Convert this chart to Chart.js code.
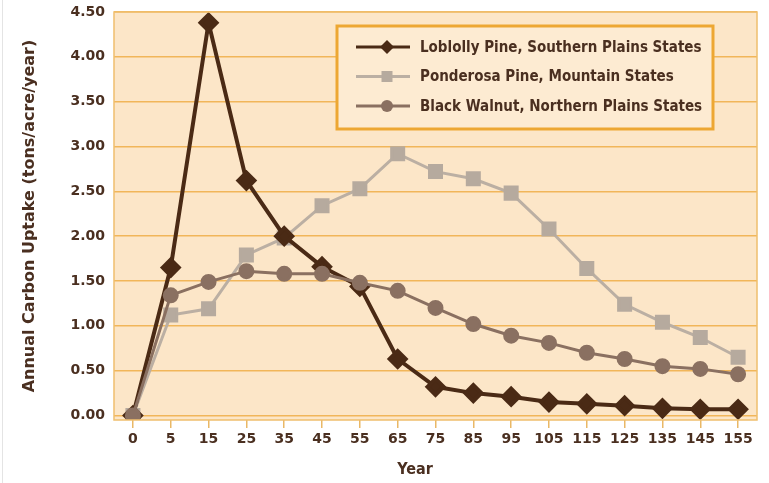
<!DOCTYPE html>
<html>
<head>
<meta charset="utf-8">
<script src="https://cdn.jsdelivr.net/npm/chart.js@4.4.1/dist/chart.umd.min.js"></script>
<style>
  html, body { margin: 0; padding: 0; background: #ffffff; }
  #wrap { width: 769px; height: 483px; position: relative; }
  #wrap:before { content: ''; position: absolute; left: 2px; top: 0; bottom: 0; width: 1px; background: #e4e4e4; }
</style>
</head>
<body>
<div id="wrap"><canvas id="chart" width="769" height="483"></canvas></div>
<script>
const years = ['0', '5', '15', '25', '35', '45', '55', '65', '75', '85', '95', '105', '115', '125', '135', '145', '155'];
const loblolly = [0, 1.65, 4.38, 2.62, 2.00, 1.66, 1.44, 0.63, 0.32, 0.25, 0.21, 0.15, 0.13, 0.11, 0.08, 0.07, 0.07];
const ponderosa = [0, 1.12, 1.19, 1.79, 1.98, 2.34, 2.53, 2.92, 2.72, 2.64, 2.48, 2.08, 1.64, 1.24, 1.04, 0.87, 0.65];
const walnut = [0, 1.34, 1.49, 1.61, 1.58, 1.58, 1.48, 1.39, 1.20, 1.02, 0.89, 0.81, 0.70, 0.63, 0.55, 0.52, 0.46];
const yTicks = [0, 0.5, 1, 1.5, 2, 2.5, 3, 3.5, 4, 4.5];

const TEXT = '#4a2f20';
const COND = '"DejaVu Sans Condensed", "Liberation Sans", sans-serif';
const WIDE = '"DejaVu Sans", "Liberation Sans", sans-serif';

const plotBg = {
  id: 'plotBg',
  beforeDraw(c) {
    const a = c.chartArea, g = c.ctx;
    g.save();
    g.fillStyle = '#fce6c8';
    g.fillRect(a.left, a.top, a.right - a.left, a.bottom - a.top);
    g.restore();
  },
  afterDatasetsDraw(c) {
    const a = c.chartArea, g = c.ctx;
    g.save();
    g.strokeStyle = '#efbf6e';
    g.lineWidth = 1.5;
    g.strokeRect(a.left, a.top, a.right - a.left, a.bottom - a.top);
    g.restore();
  }
};

// x axis title sits a little left of centre in the original
const yearTitle = {
  id: 'yearTitle',
  afterDraw(c) {
    const g = c.ctx;
    g.save();
    g.fillStyle = TEXT;
    g.font = 'bold 16px ' + COND;
    g.textAlign = 'center';
    g.textBaseline = 'middle';
    g.fillText('Year', 415, 470);
    g.restore();
  }
};

const boxLegend = {
  id: 'boxLegend',
  afterDraw(c) {
    const g = c.ctx;
    const x0 = 337, y0 = 26, w = 376, h = 103;
    g.save();
    g.fillStyle = '#fdebd2';
    g.fillRect(x0, y0, w, h);
    g.strokeStyle = '#eda733';
    g.lineWidth = 3;
    g.strokeRect(x0, y0, w, h);
    c.data.datasets.forEach((ds, k) => {
      const y = y0 + 21 + k * 29.5;
      g.strokeStyle = ds.borderColor;
      g.lineWidth = 3;
      g.beginPath();
      g.moveTo(x0 + 19, y);
      g.lineTo(x0 + 73, y);
      g.stroke();
      g.fillStyle = ds.pointBackgroundColor;
      const cx = x0 + 50;
      g.beginPath();
      if (ds.pointStyle === 'rectRot') {
        g.moveTo(cx - 7, y); g.lineTo(cx, y - 7); g.lineTo(cx + 7, y); g.lineTo(cx, y + 7);
      } else if (ds.pointStyle === 'rect') {
        g.rect(cx - 5.5, y - 5.5, 11, 11);
      } else {
        g.arc(cx, y, 6, 0, Math.PI * 2);
      }
      g.closePath();
      g.fill();
      g.fillStyle = TEXT;
      g.font = 'bold 15px ' + COND;
      g.textBaseline = 'middle';
      g.fillText(ds.label, x0 + 83, y + 1);
    });
    g.restore();
  }
};

new Chart(document.getElementById('chart'), {
  type: 'line',
  data: {
    labels: years,
    datasets: [
      {
        label: 'Loblolly Pine, Southern Plains States',
        data: loblolly,
        borderColor: '#4a2a15',
        backgroundColor: '#4a2a15',
        pointBackgroundColor: '#4a2a15',
        pointBorderColor: '#4a2a15',
        pointStyle: 'rectRot',
        pointRadius: 8,
        borderWidth: 4,
        order: 1
      },
      {
        label: 'Ponderosa Pine, Mountain States',
        data: ponderosa,
        borderColor: '#bbafa3',
        backgroundColor: '#bbafa3',
        pointBackgroundColor: '#b6aa9e',
        pointBorderColor: '#b6aa9e',
        pointStyle: 'rect',
        pointRadius: 8.5,
        borderWidth: 3,
        order: 2
      },
      {
        label: 'Black Walnut, Northern Plains States',
        data: walnut,
        borderColor: '#8a7061',
        backgroundColor: '#8a7061',
        pointBackgroundColor: '#8a7061',
        pointBorderColor: '#8a7061',
        pointStyle: 'circle',
        pointRadius: 6.5,
        borderWidth: 3,
        order: 0
      }
    ]
  },
  options: {
    responsive: false,
    animation: false,
    layout: { padding: { top: 11, right: 6, left: 0, bottom: 0 } },
    plugins: {
      legend: { display: false },
      tooltip: { enabled: false }
    },
    elements: { line: { tension: 0 }, point: { borderWidth: 1 } },
    scales: {
      x: {
        offset: true,
        grid: { drawOnChartArea: false, drawTicks: true, tickLength: 8, color: '#e9b867', lineWidth: 1.5 },
        border: { display: false },
        ticks: { color: TEXT, font: { family: WIDE, size: 14, weight: 'bold' }, padding: 3, maxRotation: 0, autoSkip: false },
        afterFit(s) { s.height = 63; s.paddingLeft = 0; s.paddingRight = 0; }
      },
      y: {
        min: -0.05,
        max: 4.5,
        afterBuildTicks(s) { s.ticks = yTicks.map(v => ({ value: v })); },
        grid: { drawTicks: false, color: '#f1b65a', lineWidth: 1.5 },
        border: { display: false },
        ticks: {
          color: TEXT, padding: 9,
          font: { family: WIDE, size: 14, weight: 'bold' },
          callback: v => Number(v).toFixed(2)
        },
        title: { display: true, text: 'Annual Carbon Uptake (tons/acre/year)', color: TEXT, font: { family: WIDE, size: 16, weight: 'bold' }, padding: { top: 20, bottom: 0 } },
        afterFit(s) { s.width = 114; s.paddingTop = 0; s.paddingBottom = 0; }
      }
    }
  },
  plugins: [plotBg, boxLegend, yearTitle]
});
</script>
</body>
</html>
